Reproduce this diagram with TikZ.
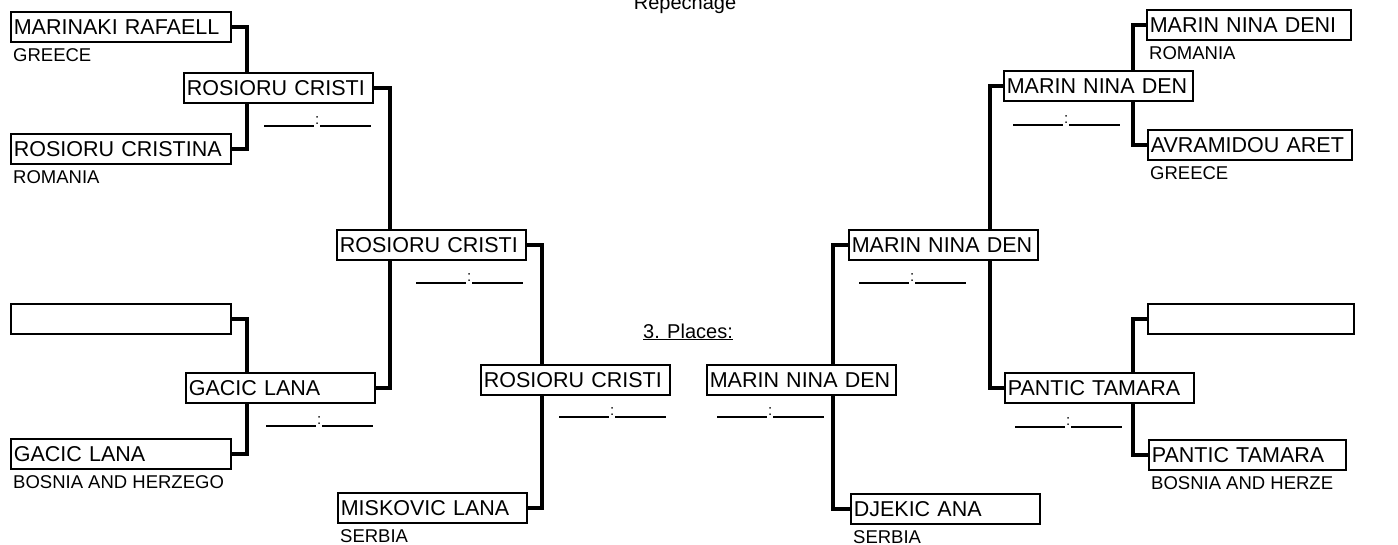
\documentclass[tikz,border=0pt]{standalone}
\usepackage{fontspec}
\setmainfont{Liberation Sans}
\usetikzlibrary{positioning, backgrounds}

% empty score field: ____:____
\newcommand{\scorefield}{\rule{50pt}{1.3pt}\kern1pt\raisebox{2pt}{\fontsize{15}{15}\selectfont:}\kern1pt\rule{51pt}{1.3pt}}

\begin{document}
\begin{tikzpicture}[
    x=1pt, y=-1pt,
    fighter/.style={
        rectangle,
        draw,
        fill=white,
        line width=1.6pt,
        anchor=north west,
        text width=#1,
        minimum height=30pt,
        inner xsep=3pt,
        inner ysep=0pt,
        align=left,
        font=\fontsize{21.5}{21.5}\selectfont
    },
    fighter/.default=183pt,
    country/.style={
        anchor=north west,
        inner sep=0pt,
        font=\fontsize{18.5}{18.5}\selectfont
    },
    score/.style={
        inner sep=0pt
    },
    heading/.style={
        inner sep=0pt,
        anchor=base,
        font=\fontsize{20}{20}\selectfont
    },
    link/.style={
        line width=4pt
    }
]
\useasboundingbox (0,0) rectangle (1398,545);

% Titles
\node[heading] (repechage) at (685,10) {Repechage};
\node[heading] (places) at (688,338) {\underline{3. Places:}};

% Left side, round 1
\node[fighter=214pt] (marinaki) at (10,11) {MARINAKI RAFAELL};
\node[country, below right=6pt and 3pt of marinaki.south west] (greeceL) {GREECE};
\node[fighter=214pt] (cristina) at (10,133) {ROSIORU CRISTINA};
\node[country, below right=6pt and 3pt of cristina.south west] (romaniaL) {ROMANIA};
\node[fighter=214pt] (emptyL) at (10,303) {};
\node[fighter=214pt] (gacicA) at (10,438) {GACIC LANA};
\node[country, below right=6pt and 3pt of gacicA.south west] (bosniaL) {BOSNIA AND HERZEGO};

% Left side, round 2
\node[fighter] (rosB) at (183,72) {ROSIORU CRISTI};
\node[score, anchor=base east] (scRosB) at ([xshift=-2pt, yshift=-23pt]rosB.south east) {\scorefield};
\node[fighter] (gacicB) at (185,372) {GACIC LANA};
\node[score, anchor=base east] (scGacicB) at ([xshift=-2pt, yshift=-23pt]gacicB.south east) {\scorefield};

% Left side, round 3
\node[fighter] (rosC) at (336,229) {ROSIORU CRISTI};
\node[score, anchor=base east] (scRosC) at ([xshift=-3pt, yshift=-23pt]rosC.south east) {\scorefield};
\node[fighter] (miskovic) at (337,492) {MISKOVIC LANA};
\node[country, below right=6pt and 3pt of miskovic.south west] (serbiaL) {SERBIA};

% 3. places
\node[fighter] (rosD) at (480,364) {ROSIORU CRISTI};
\node[score, anchor=base east] (scRosD) at ([xshift=-4pt, yshift=-22pt]rosD.south east) {\scorefield};
\node[fighter] (marinD) at (706,364) {MARIN NINA DEN};
\node[score, anchor=base west] (scMarinD) at ([xshift=11pt, yshift=-22pt]marinD.south west) {\scorefield};

% Right side, round 3
\node[fighter] (marinC) at (848,229) {MARIN NINA DEN};
\node[score, anchor=base west] (scMarinC) at ([xshift=11pt, yshift=-23pt]marinC.south west) {\scorefield};
\node[fighter] (djekic) at (850,493) {DJEKIC ANA};
\node[country, below right=6pt and 3pt of djekic.south west] (serbiaR) {SERBIA};

% Right side, round 2
\node[fighter] (marinB) at (1003,70) {MARIN NINA DEN};
\node[score, anchor=base west] (scMarinB) at ([xshift=10pt, yshift=-24pt]marinB.south west) {\scorefield};
\node[fighter] (panticB) at (1004,372) {PANTIC TAMARA};
\node[score, anchor=base west] (scPanticB) at ([xshift=11pt, yshift=-24pt]panticB.south west) {\scorefield};

% Right side, round 1
\node[fighter=198pt] (marinA) at (1146,9) {MARIN NINA DENI};
\node[country, below right=6pt and 3pt of marinA.south west] (romaniaR) {ROMANIA};
\node[fighter=198pt] (avramidou) at (1147,129) {AVRAMIDOU ARET};
\node[country, below right=6pt and 3pt of avramidou.south west] (greeceR) {GREECE};
\node[fighter=200pt] (emptyR) at (1147,303) {};
\node[fighter=191pt] (panticA) at (1148,439) {PANTIC TAMARA};
\node[country, below right=6pt and 3pt of panticA.south west] (bosniaR) {BOSNIA AND HERZE};

% Brackets (behind the boxes)
\begin{scope}[on background layer]
\draw[link] (marinaki.east) -- ++(15,0) |- (cristina.east);
\draw[link] (emptyL.east) -- ++(15,0) |- (gacicA.east);
\draw[link] (rosB.east) -- ++(16,0) |- (gacicB.east);
\draw[link] (rosC.east) -- ++(15,0) |- (miskovic.east);
\draw[link] (marinC.west) -- ++(-15,0) |- (djekic.west);
\draw[link] (marinB.west) -- ++(-13,0) |- (panticB.west);
\draw[link] (marinA.west) -- ++(-13,0) |- (avramidou.west);
\draw[link] (emptyR.west) -- ++(-14,0) |- (panticA.west);
\end{scope}

\end{tikzpicture}
\end{document}
